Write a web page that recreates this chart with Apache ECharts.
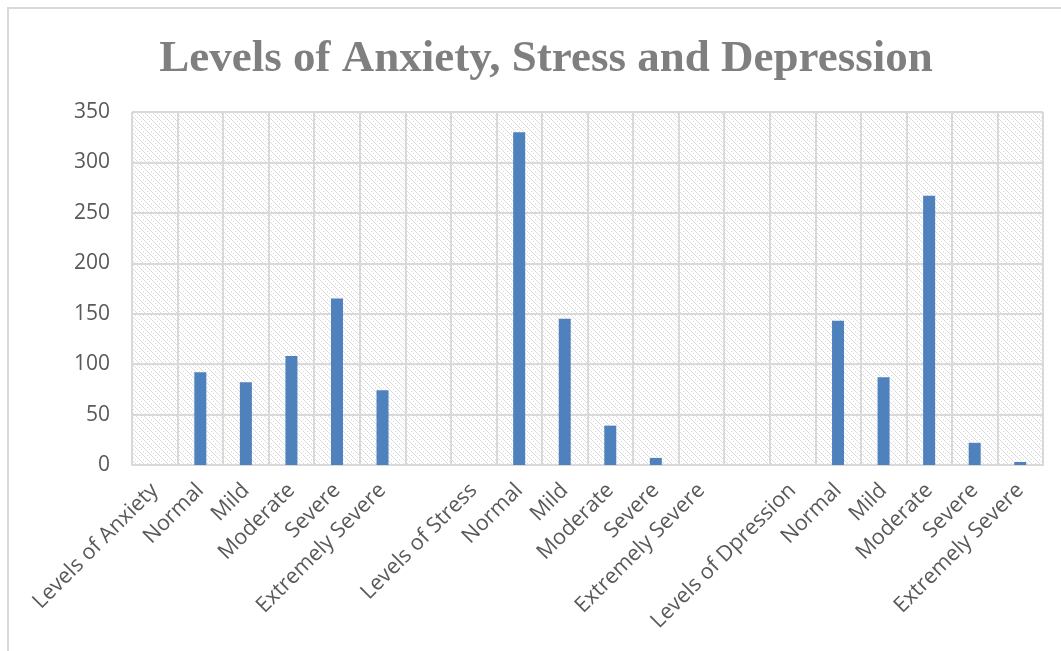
<!DOCTYPE html>
<html>
<head>
<meta charset="utf-8">
<script src="https://cdn.jsdelivr.net/npm/echarts@6/dist/echarts.min.js"></script>
<style>
  html, body { margin: 0; padding: 0; background: #fff; }
  #chart { width: 1061px; height: 651px; }
</style>
</head>
<body>
<div id="chart"></div>
<script>
// levels of each scale
var levelNames = ['Normal', 'Mild', 'Moderate', 'Severe', 'Extremely Severe'];
var anxiety = [92, 82, 108, 165, 74];
var stress = [330, 145, 39, 7, 0];
var depression = [143, 87, 267, 22, 3];
var yMax = 350;
var yStep = 50;

// category list: heading, five levels, a gap, next heading...
var categories = ['Levels of Anxiety'].concat(levelNames, [''], ['Levels of Stress'], levelNames, [''], ['Levels of Dpression'], levelNames);
var values = ['-'].concat(anxiety, ['-', '-'], stress, ['-', '-'], depression);

// hatched background like the excel plot area fill
function makePattern() {
    var c = document.createElement('canvas');
    c.width = 8; c.height = 8;
    var ctx = c.getContext('2d');
    ctx.fillStyle = '#ffffff';
    ctx.fillRect(0, 0, 8, 8);
    ctx.fillStyle = '#dcdcdc';
    for (var y = 0; y < 8; y++) {
        for (var x = 0; x < 8; x++) {
            var d = ((x - y) % 8 + 8) % 8;
            if ((d === 0 || d === 1) && (x + y) % 2 === 0) ctx.fillRect(x, y, 1, 1);
            if (d === 4 && y % 2 === 1) ctx.fillRect(x, y, 1, 1);
        }
    }
    return c;
}

var chart = echarts.init(document.getElementById('chart'));
var option = {
    animation: false,
    backgroundColor: '#ffffff',
    title: {
        text: 'Levels of Anxiety, Stress and Depression',
        left: 541,
        top: 32,
        textAlign: 'center',
        textStyle: {
            fontFamily: 'Liberation Serif',
            fontWeight: 'bold',
            fontSize: 45,
            color: '#7f7f7f'
        }
    },
    graphic: [{
        type: 'rect',
        shape: { x: 8, y: 8, width: 1200, height: 800 },
        style: { fill: 'none', stroke: '#d9d9d9', lineWidth: 2 },
        silent: true
    }],
    grid: {
        left: 132,
        right: 18,
        top: 112,
        bottom: 186,
        show: true,
        backgroundColor: { image: makePattern(), repeat: 'repeat' },
        borderWidth: 0
    },
    xAxis: {
        type: 'category',
        data: categories,
        axisTick: { show: false },
        axisLine: { lineStyle: { color: '#d9d9d9', width: 2 } },
        axisLabel: {
            interval: 0,
            rotate: 45,
            margin: 22,
            fontFamily: 'Open Sans',
            fontSize: 21.5,
            color: '#595959'
        },
        splitLine: { show: true, interval: 0, lineStyle: { color: '#d9d9d9', width: 2 } }
    },
    yAxis: {
        type: 'value',
        min: 0,
        max: yMax,
        interval: yStep,
        axisLine: { show: false },
        axisTick: { show: false },
        axisLabel: {
            margin: 22,
            fontFamily: 'Open Sans',
            fontSize: 21,
            color: '#595959'
        },
        splitLine: { lineStyle: { color: '#d9d9d9', width: 2 } }
    },
    series: [{
        type: 'bar',
        data: values,
        barWidth: 12,
        itemStyle: { color: '#4f81bd' }
    }]
};
chart.setOption(option);
</script>
</body>
</html>
